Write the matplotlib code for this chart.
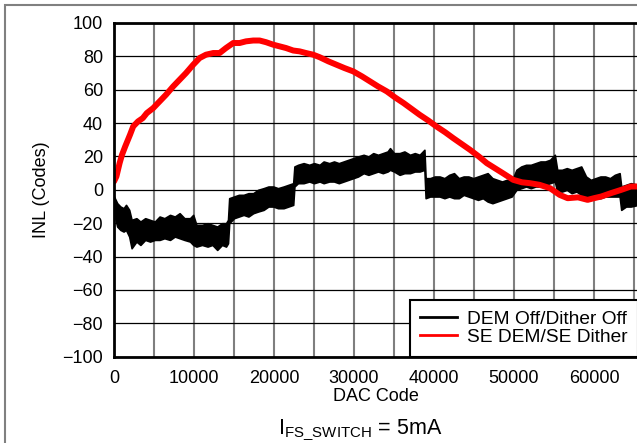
import matplotlib
matplotlib.use("Agg")
import matplotlib.pyplot as plt
from matplotlib.lines import Line2D
from matplotlib.patches import Rectangle

plt.rcParams['font.family'] = ['Liberation Sans', 'DejaVu Sans']
plt.rcParams['font.size'] = 13
plt.rcParams['mathtext.fontset'] = 'custom'
plt.rcParams['mathtext.rm'] = 'Liberation Sans'
plt.rcParams['mathtext.it'] = 'Liberation Sans:italic'

# DEM Off/Dither Off: noisy band, lower and upper edge
black_x = [0, 400, 800, 1200, 1500, 1900, 2200, 2800, 3300, 3900, 4500, 5100,
           5700, 6300, 7000, 7600, 8200, 8800, 9500, 9900, 10300, 11000, 11700,
           12300, 12900, 13500, 14000, 14250, 14400, 15000, 15600, 16200, 16800,
           17400, 18000, 18700, 19300, 19900, 20500, 21200, 21800, 22400, 22550,
           23000, 23700, 24400, 25000, 25700, 26200, 26900, 27500, 28100, 28700,
           29300, 29900, 30500, 31200, 31800, 32400, 33000, 33600, 34200, 34500,
           35000, 35700, 36300, 37000, 37600, 38200, 38800, 38950, 39500, 40100,
           40700, 41300, 41900, 42500, 43100, 43700, 44300, 44900, 45500, 46100,
           46700, 47300, 47900, 48500, 49100, 49700, 50300, 50900, 51500, 52100,
           52700, 53300, 53900, 54500, 55100, 55400, 56000, 56600, 57200, 57800,
           58400, 59000, 59600, 60200, 60800, 61400, 62000, 62600, 63200, 63400,
           64000, 64600, 65535]
black_hi = [-4, -8, -10, -11, -9, -12, -18, -17, -19, -17, -18, -19,
            -16, -17, -15, -16, -14, -17, -17, -15, -21, -21, -20,
            -21, -22, -20, -20, -18, -5, -4, -3, -3, -2,
            -2, 0, 1, 2, 2, 1, 2, 3, 4, 14,
            15, 16, 15, 16, 15, 17, 16, 17, 16, 17,
            18, 19, 20, 21, 20, 22, 21, 22, 23, 25,
            22, 22, 23, 21, 22, 21, 24, 7, 7, 8,
            8, 7, 9, 10, 7, 8, 8, 7, 8, 9,
            10, 7, 6, 5, 6, 5, 12, 14, 15, 15,
            16, 17, 17, 18, 21, 12, 12, 13, 12, 13,
            14, 8, 6, 7, 8, 8, 7, 9, 10, 2,
            3, 4, 3]
black_lo = [-14, -22, -24, -25, -24, -28, -35, -31, -33, -30, -31, -30,
            -30, -29, -30, -28, -29, -30, -31, -33, -34, -33, -34,
            -33, -36, -33, -34, -32, -20, -17, -16, -15, -16,
            -14, -13, -12, -10, -10, -11, -11, -10, -9, 2,
            4, 4, 5, 4, 5, 4, 5, 5, 4, 5,
            6, 7, 8, 10, 9, 10, 11, 10, 11, 12,
            11, 9, 10, 10, 11, 11, 12, -5, -4, -4,
            -4, -5, -4, -5, -5, -3, -4, -5, -6, -5,
            -7, -8, -7, -6, -5, -4, 0, 1, 2, 1,
            2, 2, 3, 4, 5, -1, -1, 0, -2, -1,
            -3, -5, -6, -5, -5, -4, -4, -4, -4, -12,
            -10, -10, -9]

# SE DEM/SE Dither
red_x = [0, 300, 700, 1000, 1400, 2000, 2400, 3000, 3600, 4100, 4900, 5700,
         6500, 7400, 8200, 9000, 9900, 10700, 11500, 12400, 13200, 14000,
         14900, 15700, 16500, 17400, 18200, 19000, 19900, 20700, 21500, 22400,
         23200, 24000, 24900, 25700, 26800, 27800, 28800, 29900, 31000, 32000,
         33000, 34100, 35100, 36200, 37200, 38200, 39300, 40300, 41400, 42400,
         43300, 44500, 45600, 46600, 47600, 48600, 49900, 51000, 52000, 53200,
         54500, 55700, 56700, 58000, 59200, 60000, 60900, 62100, 63400, 64600,
         65535]
red_y = [5, 8, 16, 21, 26, 33, 38, 41, 43, 46, 49, 53,
         57, 62, 66, 70, 75, 79, 81, 82, 82, 85,
         88, 88, 89, 89.5, 89.5, 88.5, 87, 86, 85, 83.5,
         83, 82, 81, 79.5, 77, 75, 73, 71, 68, 65,
         62, 59, 55.5, 52, 48.5, 45, 41.5, 38, 34.5, 31,
         28, 24, 20, 16, 13, 10, 6, 4.5, 4, 3,
         1, -3, -5, -4.5, -6, -5, -4, -2, 0, 2,
         2]

x_ticks = [0, 10000, 20000, 30000, 40000, 50000, 60000]
x_grid = [5000 * i for i in range(1, 14)]
y_ticks = [-100, -80, -60, -40, -20, 0, 20, 40, 60, 80, 100]

fig = plt.figure(figsize=(6.37, 4.43), dpi=100)
ax = fig.add_axes([114 / 637, 0.1948, 524.3 / 637, 0.7533])

for gx in x_grid:
    ax.axvline(gx, color='#7f7f7f', lw=1.5, zorder=1)
for gy in y_ticks:
    ax.axhline(gy, color='black', lw=0.9, zorder=1)

ax.fill_between(black_x, black_lo, black_hi, color='black', lw=1.2, zorder=3)
ax.plot(red_x, red_y, color='#ff0000', lw=4.3, solid_capstyle='round', zorder=4)

ax.set_xlim(0, 65535)
ax.set_ylim(-100, 100)
ax.set_xticks(x_ticks)
ax.set_yticks(y_ticks)
ax.tick_params(axis='x', length=0, pad=9.5)
ax.tick_params(axis='y', length=0, pad=8)

for s in ['left', 'top', 'bottom']:
    ax.spines[s].set_linewidth(2.0)
    ax.spines[s].set_zorder(6)
ax.spines['right'].set_visible(False)

ax.set_xlabel('DAC Code', va='center')
ax.xaxis.set_label_coords(0.5, -0.12)
ax.set_ylabel('INL (Codes)', va='center')
ax.yaxis.set_label_coords(-0.138, 0.5)

handles = [Line2D([], [], color='black', lw=2),
           Line2D([], [], color='#ff0000', lw=2)]
leg = ax.legend(handles, ['DEM Off/Dither Off', 'SE DEM/SE Dither'],
                loc='lower right', bbox_to_anchor=(1.0, 0.0), borderaxespad=0,
                fancybox=False, framealpha=1, edgecolor='black', fontsize=13.8,
                handlelength=1.9, handletextpad=0.55, labelspacing=0.05,
                borderpad=0.55)
leg.get_frame().set_linewidth(1.5)
leg.set_zorder(5)

fig.text(0.566, 0.0196, r'$\mathrm{I_{FS\_SWITCH}}$ = 5mA', fontsize=15.5,
         ha='center', va='baseline')

fig.patches.append(Rectangle((5 / 637, -0.05), 1.1, 1 - 5 / 443 + 0.05,
                             transform=fig.transFigure, fill=False,
                             edgecolor='#808080', lw=1.5))

fig.savefig('out.png', dpi=100)
